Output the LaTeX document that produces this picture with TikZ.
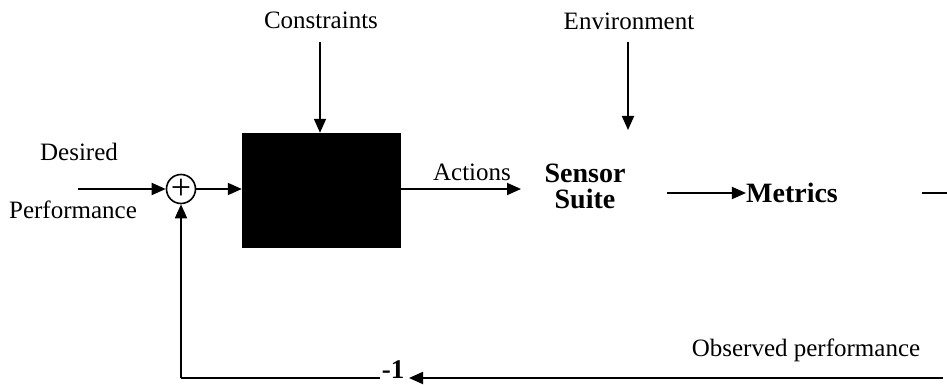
\documentclass[tikz,border=0pt]{standalone}
\usepackage{fontspec}
\setmainfont{Liberation Serif}
\usetikzlibrary{arrows.meta}
\begin{document}
\begin{tikzpicture}[x=1pt,y=-1pt,
  lbl/.style={inner sep=0pt,font=\fontsize{25}{28}\selectfont},
  big/.style={inner sep=0pt,font=\fontsize{28}{30}\selectfont\bfseries,align=center},
  flow/.style={line width=1.8pt,-{Triangle[length=14pt,width=12pt]}},
  wire/.style={line width=1.8pt}]
\useasboundingbox (0,0) rectangle (947,385);
% labels
\node[lbl] (des) at (79,152) {Desired};
\node[lbl] (perf) at (73,210) {Performance};
\node[lbl] (con) at (321,20) {Constraints};
\node[lbl] (env) at (629,21) {Environment};
\node[lbl] (act) at (472,172) {Actions};
\node[lbl] (obs) at (806,350) {Observed performance};
% summing junction and controller block
\node[draw,circle,line width=1.6pt,minimum size=29pt,inner sep=0pt] (sum) at (181,189) {};
\node[inner sep=0pt,font=\fontsize{36}{36}\selectfont] (plus) at (181,189) {+};
\node[fill=black,minimum width=159pt,minimum height=115pt,inner sep=0pt] (box) at (321.5,190.5) {};
\node[big,align=center] (sens) at (585,186) {Sensor\\[-4pt]Suite};
\node[big] (met) at (792,193) {Metrics};
\node[inner sep=0pt,font=\fontsize{27}{27}\selectfont\bfseries] (neg) at (393,370) {-1};
% free ends
\coordinate (inL) at (78,189);
\coordinate (conTop) at (320,42);
\coordinate (envTop) at (628,42);
\coordinate (envEnd) at (628,130);
\coordinate (actEnd) at (521,189);
\coordinate (metIn) at (667,193);
\coordinate (metOut) at (922,193);
\coordinate (edge) at (947,193);
\coordinate (obsR) at (943,378);
\coordinate (negR) at (409,378);
\coordinate (negL) at (380,378);
\coordinate (fbL) at (181,378);
% connectors
\draw[flow] (inL) -- (sum.west);
\draw[flow] (sum.east) -- (box.west |- sum.east);
\draw[flow] (conTop) -- (box.north -| conTop);
\draw[flow] (envTop) -- (envEnd);
\draw[flow] (box.east |- actEnd) -- (actEnd);
\draw[flow] (metIn) -- (met.west |- metIn);
\draw[wire] (metOut) -- (edge);
\draw[flow] (obsR) -- (negR);
\draw[wire] (negL) -- (fbL);
\draw[flow] (fbL) -- (sum.south);
\end{tikzpicture}
\end{document}
